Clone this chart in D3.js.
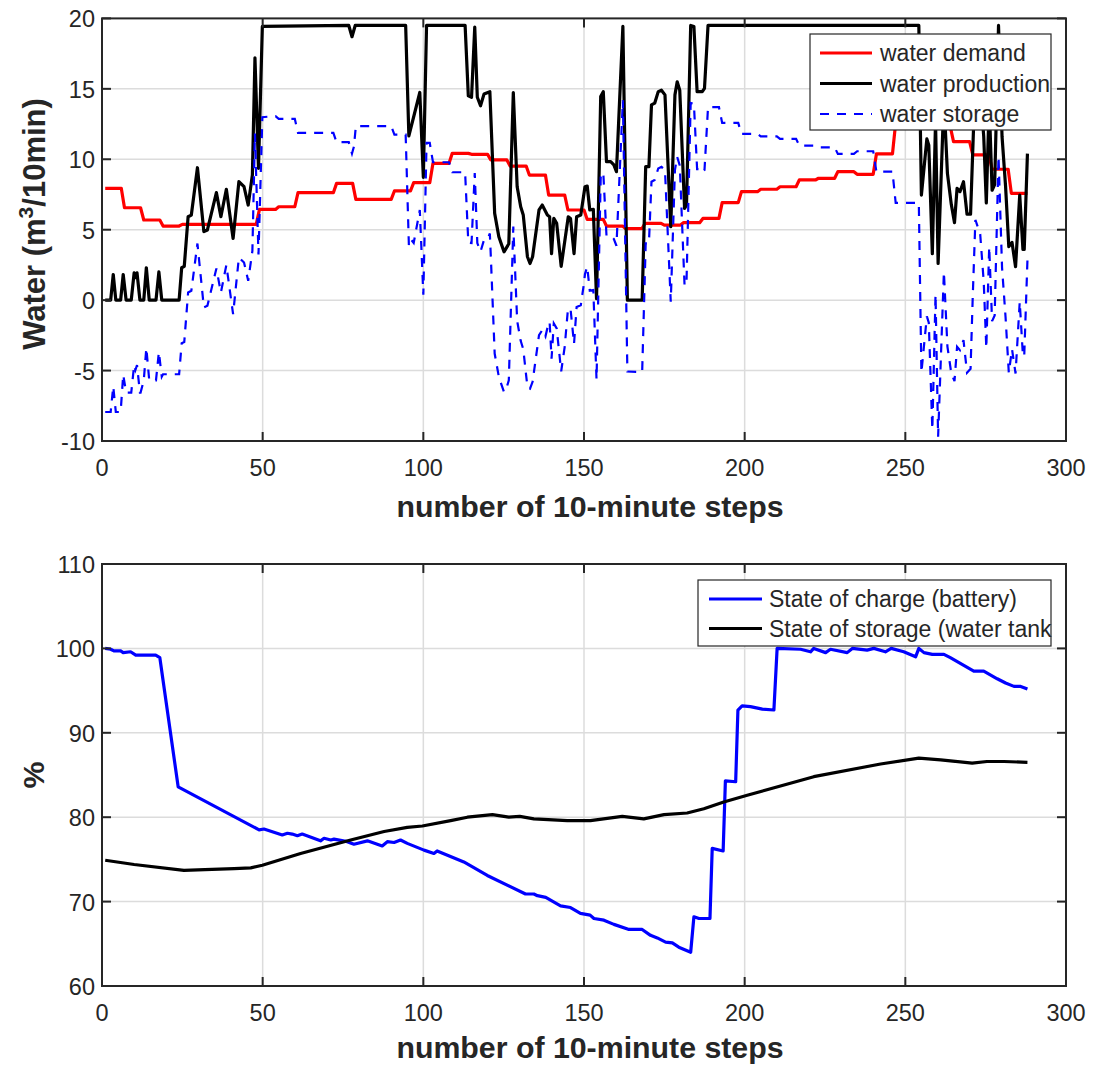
<!DOCTYPE html>
<html><head><meta charset="utf-8">
<script src="https://cdn.jsdelivr.net/npm/d3@7"></script>
<style>
body{margin:0;background:#fff}
svg{display:block}
text{font-family:"Liberation Sans",Arial,Helvetica,sans-serif;fill:#262626}
</style>
</head><body>
<svg id="c" width="1099" height="1066"></svg>
<script>
// ---------------- DATA ----------------
const xTicks = [0, 50, 100, 150, 200, 250, 300];
const topYTicks = [-10, -5, 0, 5, 10, 15, 20];
const botYTicks = [60, 70, 80, 90, 100, 110];

// hourly water demand (each value holds for 6 ten-minute steps)
const demandHourly = [7.94, 6.56, 5.69, 5.26, 5.38, 5.38, 5.38, 5.38, 6.44, 6.63, 7.63, 7.63,
  8.29, 7.15, 7.15, 7.75, 8.34, 9.71, 10.42, 10.35, 9.95, 9.52, 8.88, 7.46,
  6.40, 5.73, 5.26, 5.07, 5.45, 5.33, 5.50, 5.80, 6.92, 7.70, 7.87, 8.05,
  8.53, 8.65, 9.12, 8.93, 10.38, 12.6, 12.6, 12.3, 11.25, 10.31, 9.29, 7.58];

const prodSteps = [1, 2.7, 3.5, 4.3, 5.8, 6.6, 7.5, 9.1, 10, 10.4, 10.9, 11.8, 13, 13.8, 14.7, 16.8, 17.7, 18.6, 24, 24.8,
  25.6, 26.8, 27.8, 29.7, 31.7, 32.8, 35.6, 37, 38.7, 40.8, 42.6, 44.2, 45.5, 46.8, 47.6, 48.7, 49.9, 76.8, 77.8, 78.8,
  94.5, 95.5, 98.9, 100, 101, 113, 114, 115, 116, 116.8, 117.8, 118.9, 120.7, 122.2, 123.5, 125.1, 126.6, 128, 129.2, 130.3,
  131.1, 132.4, 133.2, 134, 136, 137, 138.6, 139.3, 139.9, 140.6, 141.5, 142.9, 145.1, 145.8, 146.9, 147.7, 149, 150.3, 151, 151.8,
  152.9, 153.9, 155.2, 156, 157, 158.3, 159.3, 160.1, 162.1, 163.5, 168.1, 169.2, 170.2, 171, 172, 173.1, 174.1, 175.2, 177, 178.3,
  179, 179.8, 181.3, 181.9, 183.2, 184.2, 185.2, 186.8, 187.5, 188.6, 254.2, 255, 256.7, 257.3, 258.4, 259.4, 260.2, 262, 263.1, 264.3,
  265.3, 266.1, 267, 268.1, 269.2, 270.3, 271.8, 273.3, 274.4, 275.2, 276.1, 277, 277.8, 279, 280.1, 281.2, 282.2, 283.2, 284.3, 285.6,
  286.6, 287, 288];
const prodValues = [0, 0, 1.82, 0, 0, 1.82, 0, 0, 1.94, 1.6, 1.94, 0, 0, 2.3, 0, 0, 2.0, 0, 0, 2.3,
  2.4, 5.92, 6.04, 9.4, 4.86, 4.98, 7.63, 5.92, 7.87, 4.38, 8.41, 8.05, 6.75, 8.88, 17.2, 9.36, 19.43, 19.5, 18.7, 19.5,
  19.5, 11.66, 14.74, 8.72, 19.5, 19.5, 14.5, 14.4, 19.38, 14.4, 13.8, 14.64, 14.8, 6.16, 4.5, 3.43, 4.0, 14.74, 8.05, 6.63,
  6.04, 3.08, 2.6, 3.08, 6.4, 6.75, 6.04, 5.92, 3.3, 5.8, 5.45, 2.4, 5.92, 5.8, 3.3, 5.92, 6.04, 8.05, 8.1, 6.4,
  6.45, 0.1, 14.45, 14.8, 9.83, 9.83, 9.6, 9.12, 19.43, 0, 0, 9.48, 9.48, 13.86, 13.98, 14.8, 14.9, 14.57, 5.21, 14.57,
  15.5, 14.9, 6.51, 6.75, 19.5, 19.43, 14.8, 14.8, 15.04, 19.5, 19.5, 7.46, 11.45, 11.0, 3.3, 12.7, 2.6, 14.3, 9.0, 6.8,
  5.5, 7.94, 7.7, 8.41, 6.1, 6.1, 16, 15, 11.6, 6.9, 14, 7.8, 8.2, 19.5, 11.6, 8.05, 3.8, 4.1, 2.37, 7.46,
  3.6, 3.6, 10.4];

const storageSteps = [1, 2.7, 3.5, 4.3, 5.8, 6.6, 7.5, 9.1, 10, 10.4, 10.9, 11.8, 12, 13, 13.8, 14.7, 16.8, 17.7, 18.6, 19,
  24, 24.8, 25.6, 26.8, 27.8, 29.7, 31.7, 32.8, 35.6, 37, 38.7, 40.8, 42.6, 44.2, 45.5, 46.8, 47.6, 48.7, 49.9, 54,
  55, 60, 61, 72, 73, 76.8, 77.8, 78.4, 79, 90, 91, 94.5, 95.5, 96, 97, 98.9, 100, 101, 102, 103,
  108, 109, 113, 114, 115, 116, 116.8, 117.8, 118.9, 120, 120.7, 121, 122.2, 123.5, 125.1, 126, 126.6, 128, 129.2, 130.3,
  131.1, 132.4, 133.2, 134, 136, 137, 138, 138.6, 139.3, 139.9, 140.6, 141.5, 142.9, 144, 145, 145.8, 146.9, 147.7, 149, 150,
  150.3, 151, 151.8, 152.9, 153.9, 155.2, 156, 157, 158.3, 159.3, 160.1, 162.1, 163, 163.5, 168.1, 169, 169.2, 170.2, 171, 172,
  173.1, 174.1, 175.2, 177, 178.3, 179, 179.8, 180, 181, 181.3, 181.9, 183.2, 184.2, 185.2, 186, 186.8, 187.5, 188.6, 192, 193,
  198, 199, 204, 205, 210, 211, 216, 217, 222, 223, 228, 229, 234, 235, 240, 241, 246, 247, 254.2, 255,
  256.7, 257.3, 258.4, 259.4, 260.2, 262, 263.1, 264.3, 265.3, 266.1, 267, 268.1, 269.2, 270.3, 271, 271.8, 273.3, 274.4, 275.2, 276.1,
  277, 277.8, 279, 280.1, 281.2, 282.2, 283.2, 284.3, 285.6, 286.6, 287, 288];
const storageValues = [-7.94, -7.94, -6.12, -7.94, -7.94, -5.29, -6.56, -6.56, -4.62, -4.96, -4.62, -6.56, -6.56, -5.69, -3.39, -5.69, -5.69, -3.69, -5.43, -5.26,
  -5.26, -3.06, -2.98, 0.54, 0.66, 4.02, -0.52, -0.4, 2.25, 0.54, 2.49, -1.0, 3.03, 2.67, 1.37, 3.5, 11.82, 3.24, 12.99, 13.06,
  12.87, 12.87, 11.87, 11.87, 11.21, 11.21, 10.41, 10.9, 12.35, 12.35, 11.75, 11.75, 3.91, 4.35, 4.06, 6.4, 0.38, 11.16, 11.16, 9.79,
  9.79, 9.08, 9.08, 4.08, 4.05, 9.03, 4.05, 3.45, 4.29, 4.35, 4.73, 3.12, -3.79, -5.45, -6.52, -6.15, -5.69, 5.22, -1.47, -2.89,
  -3.48, -6.18, -6.28, -5.8, -2.48, -2.13, -2.58, -1.99, -1.54, -4.16, -1.66, -2.01, -5.06, -3.3, -0.64, -0.6, -3.1, -0.48, -0.36, 1.2,
  1.85, 2.37, 0.67, 0.72, -5.63, 8.72, 9.07, 4.57, 4.57, 4.34, 3.86, 14.19, 1.87, -5.07, -5.11, 2.31, 4.03, 4.03, 8.41, 8.53,
  9.35, 9.46, 9.24, -0.12, 9.24, 10.17, 9.57, 8.47, 2.7, 1.01, 1.25, 14.0, 13.93, 9.3, 9.3, 9.06, 9.24, 13.7, 13.7, 12.58,
  12.58, 11.8, 11.8, 11.63, 11.63, 11.45, 11.45, 10.97, 10.97, 10.85, 10.85, 10.38, 10.38, 10.57, 10.57, 9.12, 9.12, 6.9, 6.9, -5.14,
  -1.15, -1.6, -9.18, 0.4, -9.7, 2.0, -3.3, -5.19, -5.75, -3.31, -3.55, -2.84, -5.15, -4.87, 0.39, 5.69, 4.69, 1.29, -3.41, 3.79,
  -1.49, -1.09, 10.21, 2.31, -1.24, -5.15, -3.48, -5.21, -0.12, -3.98, -3.98, 2.82];

const socSteps = [1, 2.7, 3.7, 5.8, 6.6, 8.9, 10.5, 16.7, 18, 23.7, 48.9, 50.4, 56.1, 57.7, 59.2, 60.8, 62.3, 68, 69.1, 71.2,
  72.2, 76.3, 78.4, 82.6, 87.2, 88.8, 90.9, 92.9, 95, 100.2, 103.3, 104.3, 112.6, 119.9, 131.8, 134.4, 135.5, 138.1, 142.7, 145.8,
  148.9, 151.9, 153.1, 156.2, 159.3, 164, 168.1, 170.7, 172.8, 175.4, 177.5, 179.5, 183.2, 184.2, 185.8, 189.2, 189.9, 193.3, 194, 197.2,
  197.9, 199.2, 201.8, 205.5, 209.1, 210.1, 217.4, 220.5, 221.5, 225.2, 226.7, 231.9, 233.5, 238.1, 240.2, 243.8, 245.6, 249.5, 253.2, 254.2,
  255.8, 258.4, 262, 264, 271.3, 274.4, 278.6, 281.2, 283.8, 285.9, 288];
const socValues = [100, 99.9, 99.7, 99.7, 99.5, 99.6, 99.2, 99.2, 98.9, 83.6, 78.5, 78.6, 77.9, 78.1, 78.0, 77.8, 78.0, 77.2, 77.5, 77.3,
  77.4, 77.1, 76.8, 77.2, 76.6, 77.1, 77.0, 77.3, 76.9, 76.1, 75.7, 76.0, 74.7, 73.1, 70.9, 70.9, 70.7, 70.5, 69.5, 69.3,
  68.6, 68.4, 68.0, 67.8, 67.3, 66.7, 66.7, 66.0, 65.7, 65.2, 65.1, 64.6, 64.0, 68.2, 68.0, 68.0, 76.3, 76.0, 84.3, 84.2,
  92.7, 93.2, 93.1, 92.8, 92.7, 100.0, 99.9, 99.6, 100.0, 99.5, 99.9, 99.5, 100.0, 99.8, 100.0, 99.6, 100.0, 99.6, 99.0, 100.0,
  99.5, 99.3, 99.3, 98.9, 97.3, 97.3, 96.4, 95.9, 95.5, 95.5, 95.2];

const sosSteps = [1, 10, 25.5, 32, 41.1, 46.3, 49.9, 61.8, 77.4, 87.8, 95, 99.7, 108.5, 113.7, 121.5, 126.6, 130, 134.4, 144.8, 152,
  161.9, 168.6, 174.9, 182.1, 187.3, 193.5, 200.8, 221.5, 242.3, 254.2, 261, 270.8, 275.4, 280.7, 288];
const sosValues = [74.9, 74.4, 73.7, 73.8, 73.9, 74.0, 74.3, 75.7, 77.3, 78.3, 78.8, 78.96, 79.6, 80.0, 80.3, 80.0, 80.1, 79.8, 79.6, 79.6,
  80.1, 79.8, 80.3, 80.5, 81.0, 81.8, 82.6, 84.8, 86.3, 87.0, 86.8, 86.4, 86.6, 86.6, 86.5];

const topLegend = ["water demand", "water production", "water storage"];
const botLegend = ["State of charge (battery)", "State of storage (water tank"];

// ---------------- DRAWING ----------------
const svg = d3.select("#c");
const AX = "#262626", GRID = "#dcdcdc";
const TICKFS = 23.5, LABFS = 30.3, LEGFS = 23;

function zip(xs, ys) { return xs.map((s, i) => [s, ys[i]]); }

function panel(box, yDomain, yTicks, id, labOff) {
  const x = d3.scaleLinear().domain([0, 300]).range([box.l, box.r]);
  const y = d3.scaleLinear().domain(yDomain).range([box.b, box.t]);
  const g = svg.append("g");
  g.append("clipPath").attr("id", id).append("rect")
    .attr("x", box.l).attr("y", box.t).attr("width", box.r - box.l).attr("height", box.b - box.t);
  // grid
  g.selectAll(".gx").data(xTicks.slice(1, -1)).join("line")
    .attr("x1", d => x(d)).attr("x2", d => x(d)).attr("y1", box.t).attr("y2", box.b)
    .attr("stroke", GRID).attr("stroke-width", 1.5);
  g.selectAll(".gy").data(yTicks.slice(1, -1)).join("line")
    .attr("y1", d => y(d)).attr("y2", d => y(d)).attr("x1", box.l).attr("x2", box.r)
    .attr("stroke", GRID).attr("stroke-width", 1.5);
  const data = g.append("g").attr("clip-path", `url(#${id})`);
  // axes frame & ticks
  const fr = svg.append("g").attr("class", "frame");
  const TL = 9;
  fr.selectAll(".tb").data(xTicks).join("line")
    .attr("x1", d => x(d)).attr("x2", d => x(d)).attr("y1", box.b).attr("y2", box.b - TL)
    .attr("stroke", AX).attr("stroke-width", 2);
  fr.selectAll(".tt").data(xTicks).join("line").attr("class", "tt")
    .attr("x1", d => x(d)).attr("x2", d => x(d)).attr("y1", box.t).attr("y2", box.t + TL)
    .attr("stroke", AX).attr("stroke-width", 2);
  fr.selectAll(".tl").data(yTicks).join("line").attr("class", "tl")
    .attr("y1", d => y(d)).attr("y2", d => y(d)).attr("x1", box.l).attr("x2", box.l + TL)
    .attr("stroke", AX).attr("stroke-width", 2);
  fr.selectAll(".tr").data(yTicks).join("line").attr("class", "tr")
    .attr("y1", d => y(d)).attr("y2", d => y(d)).attr("x1", box.r).attr("x2", box.r - TL)
    .attr("stroke", AX).attr("stroke-width", 2);
  fr.append("rect").attr("x", box.l).attr("y", box.t).attr("width", box.r - box.l).attr("height", box.b - box.t)
    .attr("fill", "none").attr("stroke", AX).attr("stroke-width", 2);
  // tick labels
  fr.selectAll(".xl").data(xTicks).join("text").attr("class", "xl")
    .attr("x", d => x(d)).attr("y", box.b + 35).attr("text-anchor", "middle")
    .style("font-size", TICKFS + "px").text(d => d);
  fr.selectAll(".yl").data(yTicks).join("text").attr("class", "yl")
    .attr("x", box.l - 7).attr("y", d => y(d) + 9).attr("text-anchor", "end")
    .style("font-size", TICKFS + "px").text(d => d);
  // x label
  fr.append("text").attr("x", (box.l + box.r) / 2 + 6).attr("y", box.b + labOff)
    .attr("text-anchor", "middle").style("font-size", LABFS + "px").style("font-weight", "bold")
    .text("number of 10-minute steps");
  return { x, y, data, fr };
}

const line = (x, y) => d3.line().x(d => x(d[0])).y(d => y(d[1]));

// ---- top panel ----
const T = panel({ l: 102, r: 1066, t: 18.4, b: 441 }, [-10, 20], topYTicks, "clipTop", 76);
const demandPts = [];
demandHourly.forEach((v, h) => { demandPts.push([6 * h + 1, v]); demandPts.push([6 * h + 6, v]); });
T.data.append("path").datum(demandPts).attr("d", line(T.x, T.y))
  .attr("fill", "none").attr("stroke", "#ff0000").attr("stroke-width", 3.2).attr("stroke-linejoin", "round");
T.data.append("path").datum(zip(prodSteps, prodValues)).attr("d", line(T.x, T.y))
  .attr("fill", "none").attr("stroke", "#000000").attr("stroke-width", 3.2).attr("stroke-linejoin", "round");
T.data.append("path").datum(zip(storageSteps, storageValues)).attr("d", line(T.x, T.y))
  .attr("fill", "none").attr("stroke", "#0000ff").attr("stroke-width", 2.2).attr("stroke-dasharray", "9,8");

// y label (with superscript)
const yl = T.fr.append("text").attr("transform", `translate(45,224) rotate(-90)`)
  .attr("text-anchor", "middle").style("font-size", "31px").style("font-weight", "bold");
yl.append("tspan").text("Water (m");
yl.append("tspan").attr("dy", -12).style("font-size", "21px").text("3");
yl.append("tspan").attr("dy", 12).text("/10min)");

// top legend
const tl = svg.append("g");
tl.append("rect").attr("x", 810).attr("y", 34).attr("width", 241).attr("height", 96)
  .attr("fill", "#fff").attr("stroke", AX).attr("stroke-width", 1.2);
const tlStyles = [{ c: "#ff0000", w: 3.2, d: null }, { c: "#000", w: 3.2, d: null }, { c: "#0000ff", w: 2.2, d: "9,8" }];
topLegend.forEach((t, i) => {
  const yy = 53 + i * 30.5;
  tl.append("line").attr("x1", 820).attr("x2", 872).attr("y1", yy).attr("y2", yy)
    .attr("stroke", tlStyles[i].c).attr("stroke-width", tlStyles[i].w).attr("stroke-dasharray", tlStyles[i].d);
  tl.append("text").attr("x", 880).attr("y", yy + 8).style("font-size", LEGFS + "px").text(t);
});

// ---- bottom panel ----
const B = panel({ l: 102, r: 1066, t: 564, b: 986 }, [60, 110], botYTicks, "clipBot", 72);
B.data.append("path").datum(zip(socSteps, socValues)).attr("d", line(B.x, B.y))
  .attr("fill", "none").attr("stroke", "#0000ff").attr("stroke-width", 3.2).attr("stroke-linejoin", "round");
B.data.append("path").datum(zip(sosSteps, sosValues)).attr("d", line(B.x, B.y))
  .attr("fill", "none").attr("stroke", "#000000").attr("stroke-width", 3.2).attr("stroke-linejoin", "round");
B.fr.append("text").attr("transform", `translate(44,${(564 + 986) / 2}) rotate(-90)`)
  .attr("text-anchor", "middle").style("font-size", LABFS + "px").style("font-weight", "bold").text("%");

const bl = svg.append("g");
bl.append("rect").attr("x", 698).attr("y", 580).attr("width", 353).attr("height", 66)
  .attr("fill", "#fff").attr("stroke", AX).attr("stroke-width", 1.2);
const blStyles = [{ c: "#0000ff" }, { c: "#000" }];
botLegend.forEach((t, i) => {
  const yy = 599 + i * 29.5;
  bl.append("line").attr("x1", 709).attr("x2", 762).attr("y1", yy).attr("y2", yy)
    .attr("stroke", blStyles[i].c).attr("stroke-width", 3.2);
  bl.append("text").attr("x", 769).attr("y", yy + 8).style("font-size", LEGFS + "px").text(t);
});
</script>
</body></html>
